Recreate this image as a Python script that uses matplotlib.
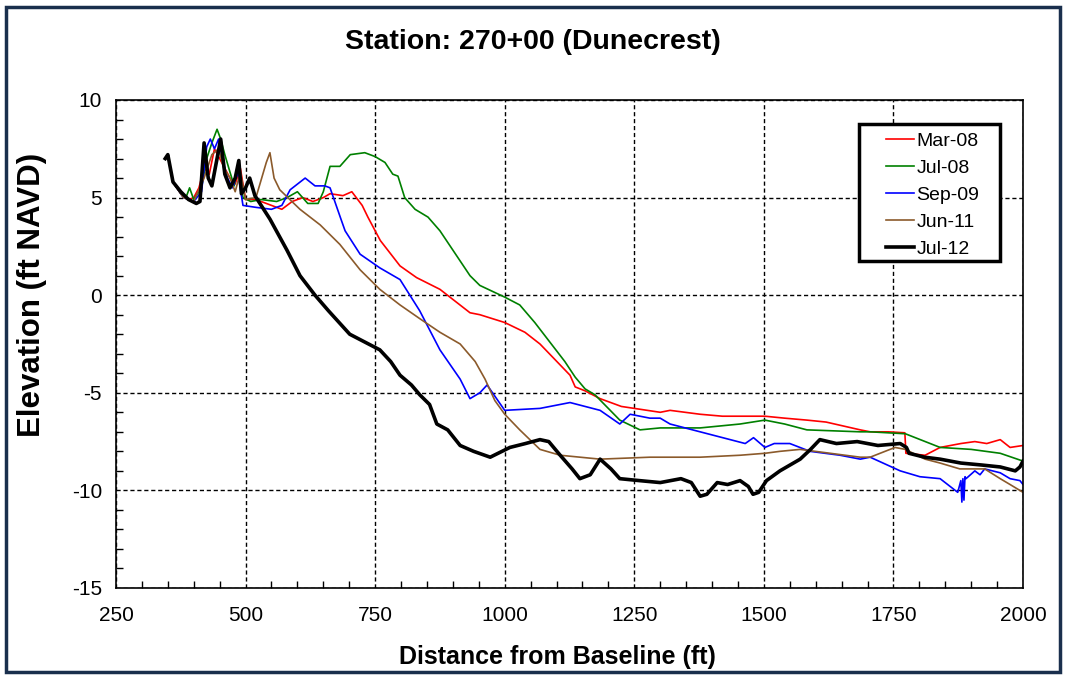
import numpy as np
import matplotlib
matplotlib.use("Agg")
import matplotlib.pyplot as plt
from matplotlib.ticker import MultipleLocator
from matplotlib.patches import Rectangle

plt.rcParams['font.family'] = ['Liberation Sans', 'DejaVu Sans']
plt.rcParams['axes.unicode_minus'] = False

# Profile data (distance ft, elevation ft NAVD)
mar08_x = [360, 375, 390, 400, 410, 420, 430, 440, 450, 460, 470, 480, 490, 500, 520, 550, 570, 590, 610,
           630, 650, 663, 688, 705, 725, 736, 760, 798, 830, 875, 933, 952, 1000, 1039, 1068, 1097, 1126, 1136,
           1155, 1184, 1225, 1250, 1300, 1319, 1377, 1420, 1454, 1502, 1540, 1583, 1620, 1686, 1705, 1740,
           1772, 1774, 1811, 1840, 1880, 1907, 1930, 1956, 1975, 2000]
mar08_y = [5.8, 5.2, 4.9, 5.0, 5.5, 6.5, 6.2, 7.5, 7.0, 6.5, 6.0, 5.7, 6.5, 4.9, 4.9, 4.6, 4.4, 4.8, 5.0,
           4.8, 5.0, 5.2, 5.1, 5.3, 4.6, 4.0, 2.8, 1.5, 0.9, 0.3, -0.9, -1.0, -1.4, -1.9, -2.5, -3.3, -4.1, -4.7,
           -4.9, -5.3, -5.7, -5.8, -6.0, -5.9, -6.1, -6.2, -6.2, -6.2, -6.3, -6.4, -6.5, -6.9, -7.0, -7.0,
           -7.05, -8.1, -8.2, -7.8, -7.6, -7.5, -7.6, -7.4, -7.8, -7.7]

jul08_x = [360, 375, 385, 392, 400, 415, 425, 435, 445, 452, 460, 470, 478, 486, 495, 510, 530, 560, 580, 600,
           620, 640, 650, 663, 682, 702, 730, 750, 769, 784, 794, 807, 827, 852, 875, 933, 952, 1000, 1029,
           1058, 1087, 1116, 1136, 1155, 1174, 1222, 1261, 1300, 1377, 1454, 1502, 1540, 1583, 1686, 1705,
           1773, 1840, 1900, 1956, 2000]
jul08_y = [5.8, 5.2, 5.0, 5.5, 4.9, 5.5, 7.0, 7.8, 8.5, 8.0, 7.2, 6.3, 5.6, 6.8, 5.0, 4.8, 4.9, 4.8, 5.0, 5.3,
           4.7, 4.7, 5.3, 6.6, 6.6, 7.2, 7.3, 7.1, 6.8, 6.2, 6.1, 5.0, 4.4, 4.0, 3.3, 1.0, 0.5, -0.1, -0.5,
           -1.4, -2.4, -3.4, -4.2, -4.8, -5.1, -6.4, -6.9, -6.8, -6.8, -6.6, -6.4, -6.6, -6.9, -7.0, -7.0,
           -7.1, -7.8, -7.9, -8.1, -8.5]

sep09_x = [360, 380, 400, 415, 425, 432, 440, 448, 455, 465, 475, 485, 495, 520, 550, 570, 586, 615, 634, 653,
           663, 684, 692, 721, 759, 798, 836, 875, 914, 933, 952, 966, 1000, 1068, 1126, 1184, 1222, 1242,
           1280, 1300, 1319, 1377, 1435, 1464, 1480, 1502, 1520, 1550, 1589, 1647, 1686, 1705, 1763, 1801,
           1840, 1874, 1880, 1882, 1884, 1886, 1888, 1890, 1907, 1917, 1926, 1956, 1975, 1994, 2000]
sep09_y = [5.8, 5.0, 4.8, 5.3, 7.6, 8.0, 7.5, 8.0, 7.0, 6.0, 5.5, 6.3, 4.6, 4.5, 4.4, 4.6, 5.4, 6.0, 5.6, 5.6,
           5.5, 3.9, 3.3, 2.1, 1.4, 0.8, -0.8, -2.8, -4.3, -5.3, -5.0, -4.6, -5.9, -5.8, -5.5, -5.9, -6.6, -6.1,
           -6.3, -6.3, -6.6, -7.0, -7.4, -7.6, -7.3, -7.8, -7.6, -7.6, -8.0, -8.2, -8.4, -8.3, -9.0, -9.3,
           -9.4, -10.1, -9.5, -10.6, -9.4, -10.5, -9.3, -9.4, -9.0, -9.2, -8.9, -9.1, -9.4, -9.5, -9.7]

jun11_x = [360, 380, 400, 420, 435, 448, 458, 470, 480, 490, 500, 520, 540, 547, 555, 566, 605, 644, 682, 721,
           759, 798, 836, 875, 914, 943, 962, 981, 1000, 1029, 1068, 1107, 1184, 1280, 1377, 1454, 1502,
           1531, 1570, 1686, 1705, 1753, 1773, 1811, 1840, 1878, 1926, 1956, 1975, 2000]
jun11_y = [5.8, 5.0, 4.8, 6.0, 7.2, 7.5, 6.5, 6.0, 5.3, 6.3, 4.9, 5.0, 6.8, 7.3, 6.0, 5.4, 4.4, 3.6, 2.6, 1.3,
           0.3, -0.5, -1.2, -1.9, -2.5, -3.4, -4.3, -5.4, -6.1, -6.9, -7.9, -8.2, -8.4, -8.3, -8.3, -8.2, -8.1,
           -8.0, -7.9, -8.3, -8.3, -7.8, -7.9, -8.4, -8.6, -8.9, -8.9, -9.4, -9.7, -10.1]

jul12_x = [345, 350, 360, 375, 390, 405, 412, 420, 428, 435, 445, 452, 460, 470, 480, 487, 492, 500, 508, 518,
           547, 580, 605, 634, 660, 701, 730, 759, 780, 798, 820, 836, 855, 869, 890, 914, 940, 972, 1010,
           1040, 1068, 1085, 1107, 1130, 1145, 1165, 1184, 1205, 1222, 1260, 1300, 1340, 1360, 1377, 1390,
           1410, 1430, 1454, 1470, 1479, 1490, 1505, 1531, 1570, 1590, 1608, 1640, 1680, 1720, 1763, 1775,
           1780, 1810, 1840, 1880, 1920, 1956, 1985, 1994, 2000]
jul12_y = [7.0, 7.2, 5.8, 5.3, 4.9, 4.7, 4.8, 7.8, 6.0, 5.6, 7.0, 8.0, 6.2, 5.5, 6.0, 6.9, 5.2, 5.5, 6.0, 5.1,
           3.9, 2.3, 1.0, 0.0, -0.8, -2.0, -2.4, -2.8, -3.4, -4.1, -4.6, -5.1, -5.6, -6.6, -6.9, -7.7, -8.0,
           -8.3, -7.8, -7.6, -7.4, -7.5, -8.2, -8.9, -9.4, -9.2, -8.4, -8.9, -9.4, -9.5, -9.6, -9.4, -9.6,
           -10.3, -10.2, -9.6, -9.7, -9.5, -9.8, -10.2, -10.1, -9.5, -9.0, -8.4, -7.9, -7.4, -7.6, -7.5, -7.7,
           -7.6, -7.8, -8.1, -8.3, -8.4, -8.6, -8.7, -8.8, -9.0, -8.8, -8.5]

fig = plt.figure(figsize=(10.66, 6.77), dpi=100)
ax = fig.add_axes([0.1088, 0.1315, 0.8509, 0.7208])

ax.plot(mar08_x, mar08_y, color='#ff0000', lw=1.2, label='Mar-08')
ax.plot(jul08_x, jul08_y, color='#008000', lw=1.2, label='Jul-08')
ax.plot(sep09_x, sep09_y, color='#0000ff', lw=1.2, label='Sep-09')
ax.plot(jun11_x, jun11_y, color='#8b5a2b', lw=1.2, label='Jun-11')
ax.plot(jul12_x, jul12_y, color='#000000', lw=2.6, label='Jul-12')

ax.set_xlim(250, 2000)
ax.set_ylim(-15, 10)
ax.xaxis.set_major_locator(MultipleLocator(250))
ax.xaxis.set_minor_locator(MultipleLocator(50))
ax.yaxis.set_major_locator(MultipleLocator(5))
ax.yaxis.set_minor_locator(MultipleLocator(1))
ax.tick_params(which='both', direction='in', top=False, right=False, labelsize=15)
ax.tick_params(axis='y', pad=10)
ax.tick_params(axis='x', pad=13)
ax.tick_params(which='major', length=0)
ax.tick_params(which='minor', length=5, width=1)
ax.grid(True, which='major', color='black', linestyle=(0, (3, 2)), lw=1)
for s in ax.spines.values():
    s.set_linewidth(1.2)

ax.set_xlabel('Distance from Baseline (ft)', fontsize=18, fontweight='bold')
ax.xaxis.set_label_coords(0.487, -0.117)
ax.set_ylabel('Elevation (ft NAVD)', fontsize=22.5, fontweight='bold')
ax.yaxis.set_label_coords(-0.076, 0.6)
fig.text(0.5, 0.938, 'Station: 270+00 (Dunecrest)', fontsize=20.5, fontweight='bold',
         ha='center', va='center')

# legend box drawn separately (wider side padding than matplotlib's frame)
ax.add_patch(Rectangle((859 / 1066, 1 - 261 / 677), 141 / 1066, 137 / 677, transform=fig.transFigure,
                       facecolor='white', edgecolor='black', lw=2.5, zorder=4, clip_on=False))
leg = ax.legend(loc='upper left', bbox_to_anchor=(0.849, 0.934), fontsize=14, frameon=False,
                handlelength=1.45, handletextpad=0.1, borderpad=0, labelspacing=0.48, borderaxespad=0)
leg.set_zorder(5)

# outer frame
fig.patches.append(Rectangle((0.006, 0.008), 0.988, 0.982, transform=fig.transFigure,
                             fill=False, edgecolor='#1a2f4d', lw=2.5))

fig.savefig('out.png', dpi=100)
